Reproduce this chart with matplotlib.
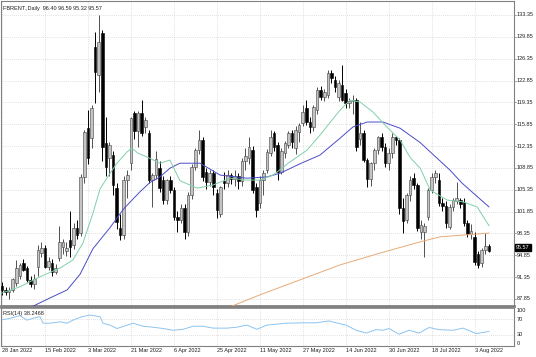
import matplotlib
matplotlib.use("Agg")
import matplotlib.pyplot as plt
from matplotlib.transforms import offset_copy

# ---------------- data ----------------
dates = ["28 Jan 2022", "15 Feb 2022", "3 Mar 2022", "21 Mar 2022", "6 Apr 2022",
         "25 Apr 2022", "11 May 2022", "27 May 2022", "14 Jun 2022", "30 Jun 2022",
         "18 Jul 2022", "3 Aug 2022"]
date_bars = [0, 12, 24, 36, 48, 60, 72, 84, 96, 108, 120, 132]

opens = [90.0, 89.3, 89.0, 89.3, 90.4, 91.5, 93.6, 92.8, 90.9, 90.2, 93.0, 95.2,
         96.0, 93.0, 93.6, 92.2, 94.4, 96.2, 95.5, 97.3, 96.5, 99.2, 98.4, 107.4,
         115.2, 113.6, 128.2, 123.7, 130.5, 112.8, 110.4, 110.9, 105.6, 99.2, 98.1, 106.9,
         109.6, 117.6, 114.7, 117.6, 115.4, 114.4, 106.9, 107.7, 108.8, 106.9, 103.7, 106.9,
         105.3, 101.0, 100.5, 102.5, 98.5, 104.5, 109.0, 111.7, 113.3, 108.2, 106.6, 108.0,
         104.8, 101.5, 106.8, 106.4, 107.7, 107.0, 107.5, 106.8, 110.0, 110.4, 111.7, 105.8,
         103.2, 106.9, 108.5, 111.2, 114.4, 112.5, 108.2, 111.2, 112.5, 114.4, 112.0, 114.6,
         116.0, 118.4, 116.2, 115.4, 118.1, 121.3, 120.2, 120.5, 124.1, 122.9, 120.2, 122.1,
         120.8, 119.2, 119.6, 119.7, 113.5, 114.4, 110.1, 107.0, 109.6, 111.7, 113.8, 112.2,
         109.6, 111.2, 113.8, 113.3, 102.5, 100.5, 104.5, 107.2, 106.1, 98.6, 98.6, 101.0,
         105.3, 107.4, 106.9, 103.2, 102.8, 99.4, 102.6, 103.5, 103.7, 103.4, 100.0, 98.2,
         97.8, 95.0, 93.6, 95.7, 96.40]
highs = [90.5, 89.8, 89.8, 91.2, 94.1, 93.6, 94.2, 93.2, 91.5, 91.8, 96.5, 97.0,
         96.5, 94.5, 94.2, 93.5, 99.5, 97.5, 97.0, 102.0, 100.0, 100.5, 107.8, 115.0,
         118.1, 118.9, 130.6, 133.3, 131.0, 117.0, 113.0, 111.5, 106.5, 101.5, 107.5, 108.5,
         117.0, 118.0, 118.0, 119.7, 117.0, 115.0, 108.0, 111.5, 110.0, 107.5, 107.0, 107.5,
         105.8, 102.0, 103.0, 103.0, 105.0, 109.5, 112.0, 115.0, 113.8, 108.8, 108.5, 108.5,
         105.5, 106.0, 108.2, 108.5, 108.0, 108.5, 108.0, 110.5, 112.0, 113.8, 112.3, 106.5,
         107.5, 108.5, 111.8, 115.0, 114.8, 113.0, 112.0, 113.2, 114.8, 115.0, 115.5, 116.0,
         119.0, 119.7, 117.0, 119.0, 121.8, 122.0, 121.5, 124.5, 124.5, 123.5, 123.0, 125.3,
         121.5, 120.0, 120.5, 120.0, 116.2, 115.0, 110.5, 109.8, 112.0, 114.0, 114.5, 112.8,
         112.0, 114.4, 114.0, 113.6, 104.0, 104.8, 107.5, 108.0, 106.5, 100.5, 100.0, 105.6,
         108.0, 108.5, 108.0, 104.0, 103.5, 103.0, 104.0, 106.6, 104.0, 104.0, 100.5, 99.8,
         98.5, 95.5, 96.0, 98.4, 96.59]
lows = [88.5, 88.5, 87.8, 88.9, 90.0, 91.0, 92.3, 90.5, 89.8, 89.5, 91.5, 94.5,
        92.8, 92.5, 91.5, 91.8, 94.0, 95.0, 94.8, 94.5, 95.8, 97.5, 98.0, 106.5,
        109.5, 112.0, 119.2, 121.0, 110.0, 107.5, 107.5, 104.5, 99.0, 97.3, 97.5, 104.0,
        108.5, 113.5, 112.2, 114.0, 114.5, 106.5, 102.6, 107.0, 105.0, 103.0, 103.0, 104.8,
        100.5, 98.5, 100.0, 97.5, 98.0, 103.8, 108.5, 111.0, 106.8, 105.5, 106.0, 104.5,
        100.8, 101.0, 105.5, 105.8, 106.2, 106.0, 105.5, 106.0, 108.5, 109.5, 104.8, 101.0,
        102.5, 104.5, 108.0, 110.8, 111.5, 106.9, 107.8, 110.5, 112.0, 112.0, 111.0, 113.0,
        115.5, 115.8, 114.5, 114.8, 117.5, 119.8, 119.5, 120.0, 122.5, 121.0, 119.5, 119.5,
        118.5, 118.5, 117.5, 111.5, 112.5, 109.8, 105.8, 106.0, 108.5, 111.0, 111.5, 109.0,
        108.5, 110.5, 112.5, 101.5, 98.4, 100.0, 103.5, 105.5, 98.8, 97.5, 94.6, 100.5,
        104.8, 106.5, 102.8, 102.0, 99.2, 99.0, 102.0, 103.0, 102.5, 99.5, 97.8, 97.5,
        93.3, 92.8, 93.0, 95.0, 95.32]
closes = [89.3, 89.0, 89.3, 91.0, 92.8, 93.3, 92.5, 90.9, 90.2, 91.0, 95.7, 96.0,
          93.0, 94.0, 92.2, 92.8, 97.0, 97.0, 96.0, 96.2, 99.2, 98.1, 107.4, 114.6,
          110.4, 118.4, 124.2, 129.0, 112.2, 109.0, 112.5, 106.1, 100.2, 98.1, 106.9, 107.7,
          116.8, 114.7, 117.6, 114.4, 116.5, 106.9, 107.7, 110.2, 105.6, 103.7, 106.9, 105.3,
          101.0, 100.5, 102.5, 98.5, 104.5, 109.0, 111.7, 113.3, 107.4, 106.6, 108.0, 105.8,
          102.1, 105.8, 106.4, 107.7, 107.0, 107.5, 106.8, 110.0, 110.8, 112.2, 105.3, 102.1,
          106.9, 108.0, 111.4, 113.8, 112.2, 108.2, 111.6, 112.8, 114.4, 113.0, 115.0, 115.7,
          117.8, 116.2, 115.4, 118.6, 121.3, 120.2, 121.0, 124.1, 123.2, 121.8, 122.5, 119.7,
          119.2, 119.6, 119.7, 112.2, 114.4, 110.1, 107.0, 109.6, 111.7, 113.8, 112.2, 109.6,
          111.2, 113.8, 113.3, 102.5, 100.3, 104.5, 106.9, 106.1, 99.2, 99.7, 99.6, 105.3,
          107.4, 108.0, 103.2, 102.8, 100.0, 102.6, 103.7, 104.0, 103.0, 100.0, 98.2, 98.8,
          93.8, 93.3, 95.7, 96.4, 95.57]

# moving averages (bar index, value)
ma_fast_x = [0, 5, 10.6, 16.2, 19.8, 22.6, 25.4, 27.4, 30.2, 32.1, 34.9, 36.3, 38, 40.5,
             44.1, 46.9, 49.7, 54.5, 58.9, 63.7, 68.4, 72, 75.7, 80.4, 85.2, 88.8, 94.4,
             97.2, 100, 103.6, 107.5, 111.2, 114, 116.8, 119.6, 124.3, 128.8, 132.7, 136]
ma_fast_y = [88.8, 89.8, 91.4, 92.8, 94.1, 96.8, 101.6, 105.5, 108.0, 109.6, 111.4, 112.0,
             111.2, 110.6, 109.6, 110.1, 106.8, 105.6, 106.1, 107.2, 106.9, 106.9, 107.7,
             109.8, 111.7, 114.1, 118.1, 119.7, 119.4, 117.8, 115.4, 113.3, 110.5, 108.8,
             105.3, 103.7, 103.4, 102.6, 99.6]
ma_slow_x = [8.7, 13, 18.2, 21.8, 25.4, 30.2, 34, 38.5, 41.3, 44.1, 46.9, 49.7, 55.3, 60.9,
             68.4, 74, 77.7, 83.2, 88.8, 94.4, 98, 102, 106.4, 111.2, 116.8, 125.1, 128.5, 136]
ma_slow_y = [86.7, 87.9, 89.3, 91.8, 95.9, 99.3, 102.3, 105.0, 106.5, 107.4, 108.8, 109.6,
             109.6, 107.7, 107.2, 107.4, 108.0, 109.5, 110.9, 113.6, 115.4, 116.2, 116.2,
             115.2, 112.9, 108.5, 106.4, 102.6]
ma_long_x = [64.2, 72, 83.2, 94.4, 105.6, 116.8, 122.3, 136]
ma_long_y = [86.7, 88.5, 90.9, 93.3, 95.2, 97.0, 97.8, 98.4]

rsi_x = [0, 2.2, 5, 7, 8.7, 10.6, 11.5, 13.4, 16.2, 18.2, 19.8, 22.3, 24.6, 27.4, 28.2,
         30.2, 32.1, 35, 36.6, 39.4, 42.2, 45, 47.8, 50.6, 53.4, 56.1, 59, 62.8, 65.6,
         68.4, 71.2, 74, 79.3, 84, 87.7, 91.3, 93.3, 96.1, 98.9, 101.7, 104.5, 106.4,
         108.1, 110.9, 113.7, 116.5, 119.3, 122.1, 126, 128.8, 132.4, 135.2, 136]
rsi_y = [69, 72.7, 80, 68, 73, 77, 60, 60, 63.6, 60, 68, 77, 81.5, 77, 60, 55, 46, 55, 60,
         52, 49.5, 46, 41.5, 44, 52, 52, 47, 47, 49.5, 55, 44, 55, 60, 61, 61, 66, 61, 55,
         41.5, 34, 43, 41.5, 46, 31, 41.5, 34, 48.7, 43, 41.5, 47, 32.7, 37, 38.2]

price_ticks = [133.35, 129.85, 126.35, 122.85, 119.35, 115.85, 112.35, 108.85,
               105.35, 101.85, 98.35, 94.85, 91.35, 87.85]
title = "FBRENT.,Daily  96.40 96.59 95.32 95.57"
rsi_label = "RSI(14) 38.2468"
last_price = 95.57

# ---------------- layout ----------------
W, H = 536, 357
fig = plt.figure(figsize=(W / 100, H / 100), dpi=100)
fig.patch.set_facecolor("white")


def rect(x0, y0, x1, y1):
    return [x0 / W, 1 - y1 / H, (x1 - x0) / W, (y1 - y0) / H]


ax = fig.add_axes(rect(1, 1, 514, 306))
rax = fig.add_axes(rect(1, 308, 514, 346), sharex=ax)

FONT = dict(family="Liberation Sans", size=4, color="#202020")
GRID = dict(color="#c4c4c4", lw=0.5, ls=(0, (1, 2)))

ax.set_xlim(-0.28, 143.0)
ax.set_ylim(86.72, 135.59)
rax.set_ylim(0, 100)

for a in (ax, rax):
    a.set_facecolor("white")
    a.tick_params(left=False, bottom=False, labelleft=False, labelbottom=False,
                  right=False, labelright=False)
    for s in a.spines.values():
        s.set_color("#808080")
        s.set_linewidth(0.8)
    for b in date_bars:
        a.axvline(b, zorder=0, **GRID)
ax.spines["bottom"].set_linewidth(2.0)
rax.spines["top"].set_linewidth(1.2)

ytr = ax.get_yaxis_transform()
for p in price_ticks:
    ax.axhline(p, zorder=0, **GRID)
    ax.text(1.005, p, f"{p:.2f}", transform=ytr, ha="left", va="center", **FONT)
    ax.plot([1.0, 1.004], [p, p], transform=ytr, color="#808080", lw=0.5, clip_on=False)

# candles
for i in range(len(closes)):
    o, h, l, c = opens[i], highs[i], lows[i], closes[i]
    bull = c >= o
    ax.vlines(i, l, h, color="#505050" if bull else "black", lw=0.7, zorder=3)
    ax.bar(i, max(abs(c - o), 0.12), bottom=min(o, c), width=0.72,
           color="#c4c4c4" if bull else "black",
           edgecolor="#404040" if bull else "black", linewidth=0.4, zorder=4)

ax.plot(ma_long_x, ma_long_y, color="#e8aa78", lw=0.7, zorder=5)
ax.plot(ma_slow_x, ma_slow_y, color="#4b4bc8", lw=0.7, zorder=5)
ax.plot(ma_fast_x, ma_fast_y, color="#7fd0a8", lw=0.7, zorder=5)

ax.text(0.004, 0.985, title, transform=ax.transAxes, ha="left", va="top", **FONT)

# last price box
box_tr = offset_copy(ytr, fig=fig, x=0, y=2.5, units="points")
ax.text(1.004, last_price, f"{last_price:.2f}", transform=box_tr,
        ha="left", va="center", family="Liberation Sans", size=4, color="white",
        bbox=dict(boxstyle="square,pad=0.15", fc="black", ec="black"), zorder=10)

# RSI panel
rax.plot(rsi_x, rsi_y, color="#8cc4f0", lw=0.7)
for lv in (70, 30):
    rax.axhline(lv, zorder=0, **GRID)
rax.text(0.004, 0.93, rsi_label, transform=rax.transAxes, ha="left", va="top", **FONT)
for lv, va in ((100, "top"), (70, "center"), (30, "center"), (0, "bottom")):
    rax.text(1.005, lv, str(lv), transform=rax.get_yaxis_transform(), ha="left",
             va=va, **FONT)

for b, d in zip(date_bars, dates):
    rax.text(b, -6, d, ha="left", va="top", clip_on=False, **FONT)

fig.savefig("out.png", dpi=100)
